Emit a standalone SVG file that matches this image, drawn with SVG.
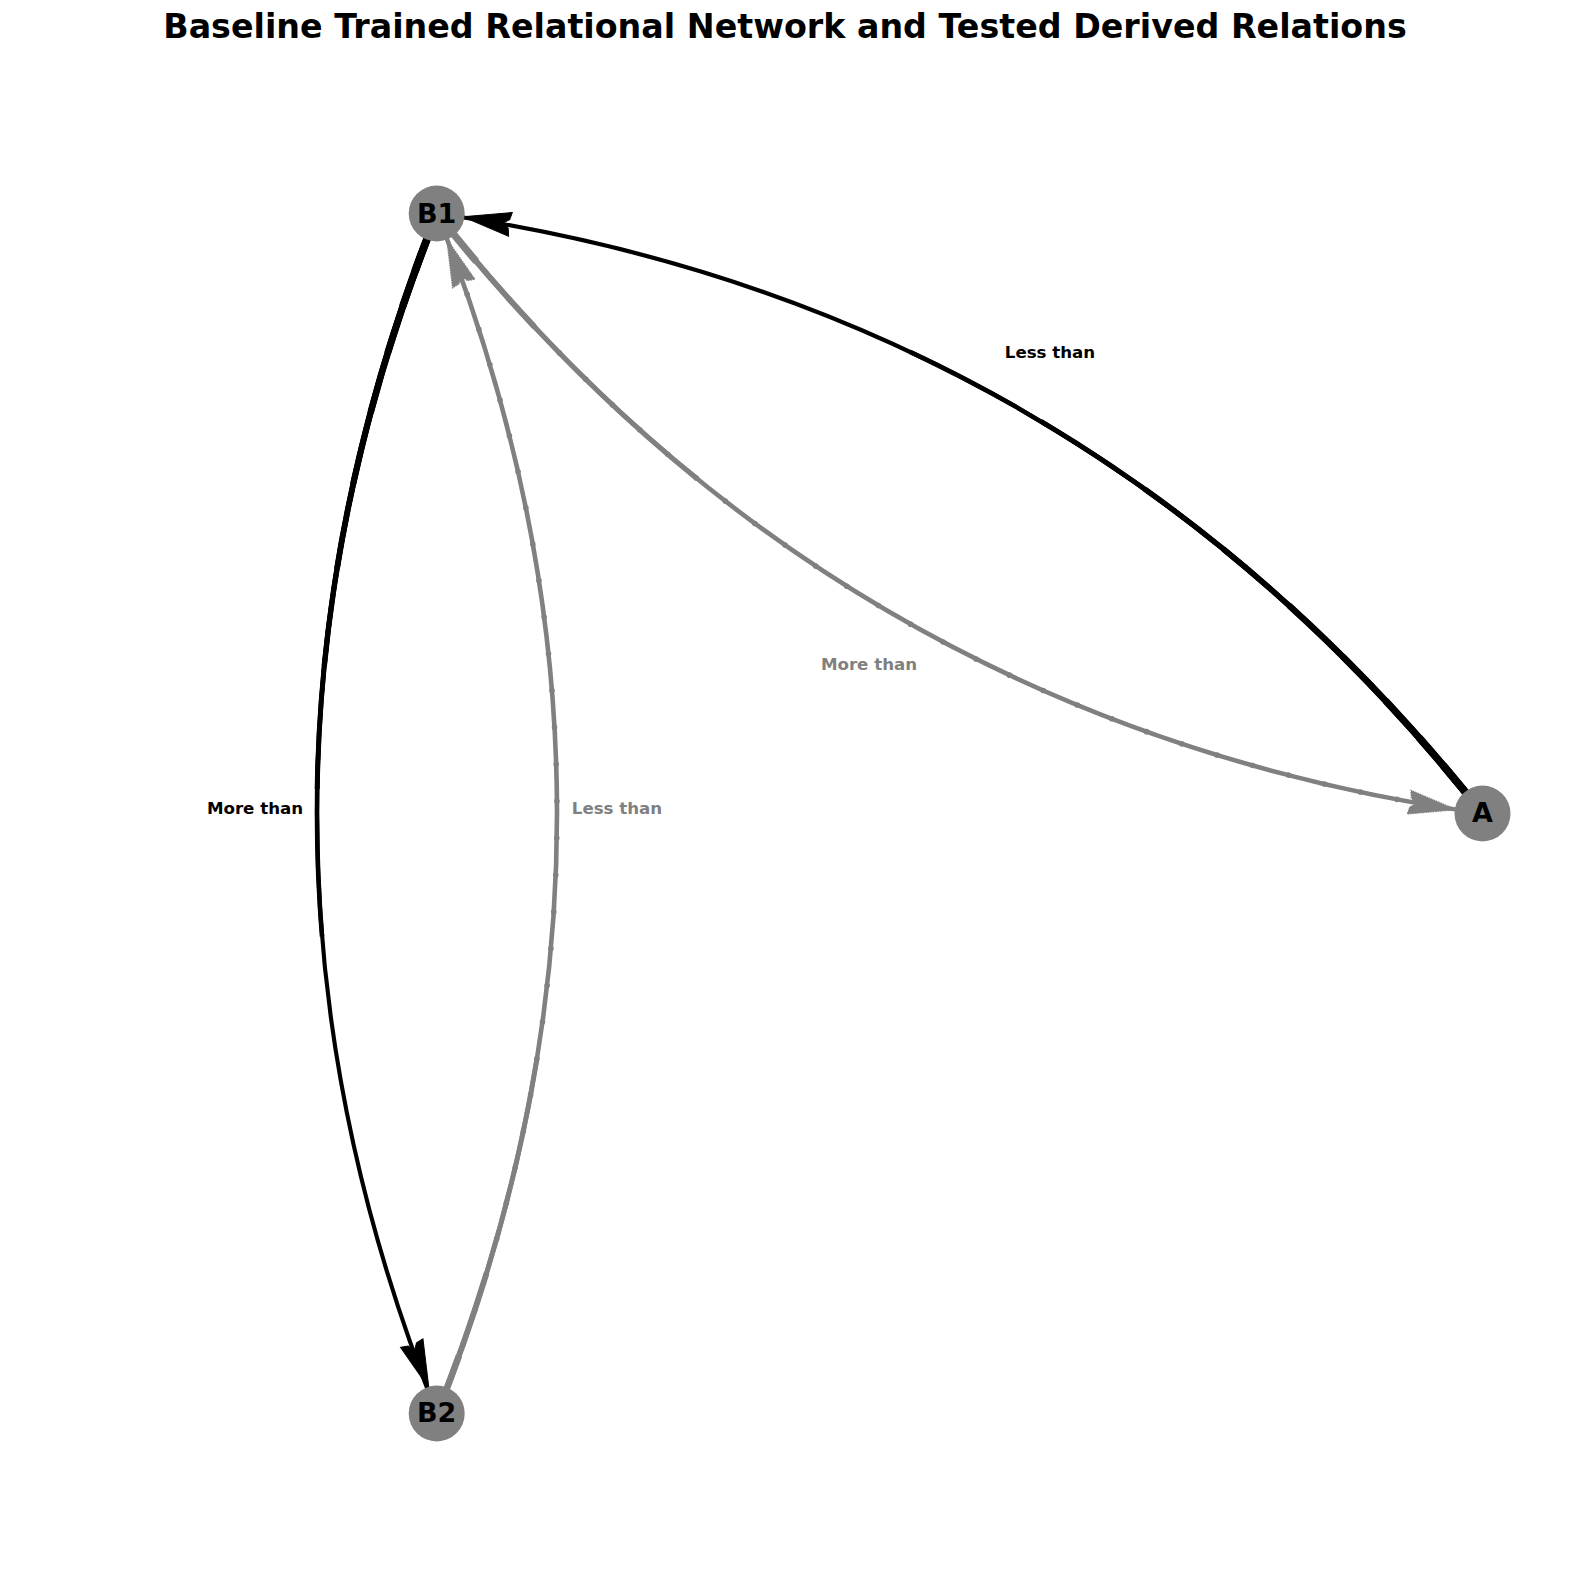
<svg xmlns="http://www.w3.org/2000/svg" xmlns:xlink="http://www.w3.org/1999/xlink" width="1570" height="1594" viewBox="0 0 1570 1594">
<style>
  text { font-family: "DejaVu Sans", "Liberation Sans", sans-serif; font-weight: bold; }
  .title { font-size: 33.3px; text-anchor: middle; fill: #000; }
  .elabel { font-size: 16.67px; text-anchor: middle; }
  .lt { fill: #000; }
  .lg { fill: #808080; }
  .nlabel { font-size: 27px; text-anchor: middle; fill: #000; }
  .node { fill: #808080; }
  .trained { stroke: #000; fill: none; stroke-linecap: butt; }
  .tested { stroke: #808080; fill: none; stroke-linecap: butt; }
  .dots { stroke: #808080; fill: none; stroke-linecap: round; stroke-width: 5.6; stroke-dasharray: 0 3; }
  .ah-trained { fill: #000; stroke: #000; stroke-width: 1; stroke-linejoin: miter; }
  .ah-tested { fill: #808080; stroke: #808080; stroke-width: 1.2; stroke-dasharray: 1.5 1; }
  .s60 { stroke-dasharray: 60 200; }
  .s48 { stroke-dasharray: 48 200; }
  .s38 { stroke-dasharray: 38 200; }
  .s30 { stroke-dasharray: 30 200; }
  .s23 { stroke-dasharray: 23 200; }
  .s17 { stroke-dasharray: 17 200; }
  .s12 { stroke-dasharray: 12 200; }
  .s8 { stroke-dasharray: 8 200; }
  .s5 { stroke-dasharray: 5 200; }
</style>
<defs>
  <polygon id="ah" points="-1,0 47,-12 45.5,-4.5 39,0 45.5,4.5 47,12"/>
  <path id="pAB1" pathLength="100" d="M1482.5,813.5 Q1079.75,304.4 437,213.5"/>
  <path id="pB1B2" pathLength="100" d="M437,213.5 Q197,813.5 437,1413.5"/>
  <path id="pB2B1" pathLength="100" d="M437,1413.5 Q677,813.5 437,213.5"/>
  <path id="pB1A" pathLength="100" d="M437,213.5 Q839.75,722.6 1482.5,813.5"/>
</defs>

<rect x="0" y="0" width="1570" height="1594" fill="#fff"/>

<text class="title" x="785" y="37.5">Baseline Trained Relational Network and Tested Derived Relations</text>

<g id="connectors">
  <g id="edge-A-B1">
    <use xlink:href="#pAB1" class="trained" stroke-width="4.2"/>
    <use xlink:href="#pAB1" class="trained s60" stroke-width="4.6"/>
    <use xlink:href="#pAB1" class="trained s48" stroke-width="5.0"/>
    <use xlink:href="#pAB1" class="trained s38" stroke-width="5.4"/>
    <use xlink:href="#pAB1" class="trained s30" stroke-width="5.8"/>
    <use xlink:href="#pAB1" class="trained s23" stroke-width="6.2"/>
    <use xlink:href="#pAB1" class="trained s17" stroke-width="6.6"/>
    <use xlink:href="#pAB1" class="trained s12" stroke-width="7.0"/>
    <use xlink:href="#pAB1" class="trained s8" stroke-width="7.4"/>
    <use xlink:href="#pAB1" class="trained s5" stroke-width="7.8"/>
    <use xlink:href="#ah" class="ah-trained" transform="translate(464,217) rotate(8.96)"/>
  </g>
  <g id="edge-B1-B2">
    <use xlink:href="#pB1B2" class="trained" stroke-width="4.1"/>
    <use xlink:href="#pB1B2" class="trained s60" stroke-width="4.6"/>
    <use xlink:href="#pB1B2" class="trained s48" stroke-width="5.0"/>
    <use xlink:href="#pB1B2" class="trained s38" stroke-width="5.4"/>
    <use xlink:href="#pB1B2" class="trained s30" stroke-width="5.8"/>
    <use xlink:href="#pB1B2" class="trained s23" stroke-width="6.2"/>
    <use xlink:href="#pB1B2" class="trained s17" stroke-width="6.6"/>
    <use xlink:href="#pB1B2" class="trained s12" stroke-width="7.0"/>
    <use xlink:href="#pB1B2" class="trained s8" stroke-width="7.4"/>
    <use xlink:href="#pB1B2" class="trained s5" stroke-width="7.8"/>
    <use xlink:href="#ah" class="ah-trained" transform="translate(428.5,1387) rotate(-110.9)"/>
  </g>
  <g id="edge-B2-B1">
    <use xlink:href="#pB2B1" class="tested" stroke-width="4.6"/>
    <use xlink:href="#pB2B1" class="tested s30" stroke-width="5.0"/>
    <use xlink:href="#pB2B1" class="tested s12" stroke-width="5.8"/>
    <use xlink:href="#pB2B1" class="tested s5" stroke-width="6.6"/>
    <use xlink:href="#pB2B1" class="dots"/>
    <use xlink:href="#ah" class="ah-tested" transform="translate(447,239.7) rotate(69.1)"/>
  </g>
  <g id="edge-B1-A">
    <use xlink:href="#pB1A" class="tested" stroke-width="4.6"/>
    <use xlink:href="#pB1A" class="tested s30" stroke-width="5.0"/>
    <use xlink:href="#pB1A" class="tested s12" stroke-width="5.8"/>
    <use xlink:href="#pB1A" class="tested s5" stroke-width="7.2"/>
    <use xlink:href="#pB1A" class="dots"/>
    <use xlink:href="#ah" class="ah-tested" transform="translate(1455.5,809.5) rotate(188.96)"/>
  </g>
</g>

<g id="edge-labels">
  <text class="elabel lt" x="1050" y="358.3">Less than</text>
  <text class="elabel lg" x="869" y="670">More than</text>
  <text class="elabel lt" x="255" y="814.3">More than</text>
  <text class="elabel lg" x="617" y="814.3">Less than</text>
</g>

<g id="node-B1">
  <circle class="node" cx="436.7" cy="213.5" r="28"/>
  <text class="nlabel" x="436.7" y="222.7">B1</text>
</g>
<g id="node-A">
  <circle class="node" cx="1482.5" cy="813.5" r="28"/>
  <text class="nlabel" x="1482.5" y="821.7">A</text>
</g>
<g id="node-B2">
  <circle class="node" cx="436.7" cy="1413.5" r="28"/>
  <text class="nlabel" x="436.7" y="1421.7">B2</text>
</g>
</svg>
